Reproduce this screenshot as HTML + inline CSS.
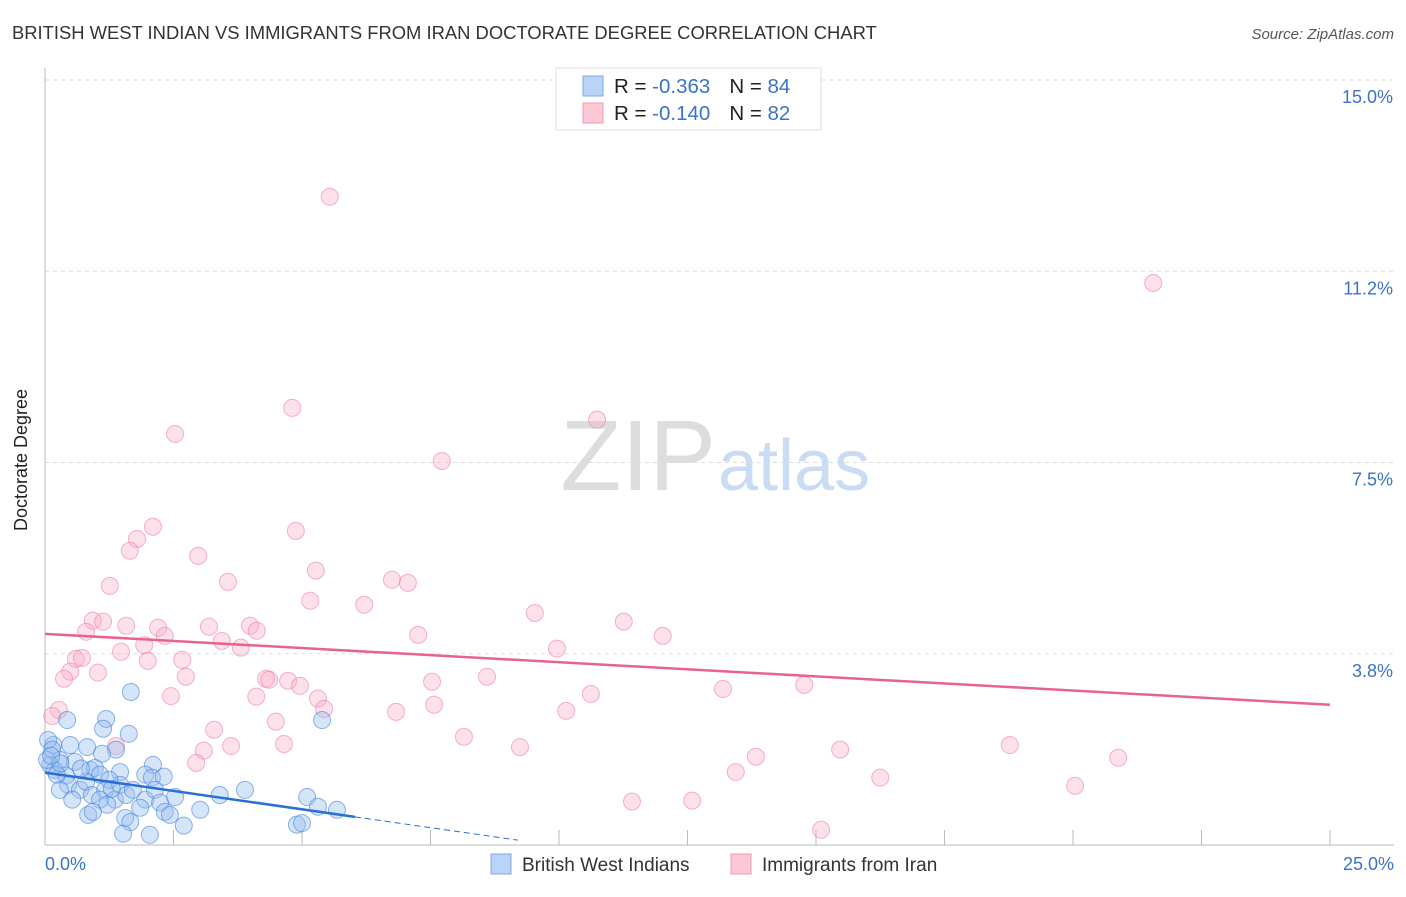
<!DOCTYPE html>
<html><head><meta charset="utf-8"><style>
body{margin:0;background:#fff;font-family:"Liberation Sans",sans-serif}
svg text{font-family:"Liberation Sans",sans-serif}
</style></head><body>
<svg width="1406" height="892">
<text x="12" y="39" font-size="18.4" fill="#333">BRITISH WEST INDIAN VS IMMIGRANTS FROM IRAN DOCTORATE DEGREE CORRELATION CHART</text>
<text x="1394" y="39" font-size="15" fill="#555" font-style="italic" text-anchor="end">Source: ZipAtlas.com</text>
<g id="grid"></g>
<text x="716" y="490" font-size="100" fill="#ddd" text-anchor="end" font-family="Liberation Serif">ZIP</text>
<text x="718" y="490" font-size="72" fill="#c9dcf3">atlas</text>
<g id="pts"></g>
<g id="trend"></g>
<text x="27" y="460" font-size="18" fill="#222" text-anchor="middle" transform="rotate(-90 27 460)">Doctorate Degree</text>
<g>
<rect x="556" y="68" width="265" height="62" fill="#fff" stroke="#ddd"/>
<rect x="583" y="76" width="20" height="20" fill="#b9d4f6" stroke="#7fa9e6"/>
<rect x="583" y="103" width="20" height="20" fill="#fcc8d6" stroke="#ee9ab3"/>
<text x="614" y="93" font-size="20.5" fill="#222">R = <tspan fill="#3b73c9">-0.363</tspan><tspan dx="19">N = </tspan><tspan fill="#3b73c9">84</tspan></text>
<text x="614" y="120" font-size="20.5" fill="#222">R = <tspan fill="#3b73c9">-0.140</tspan><tspan dx="19">N = </tspan><tspan fill="#3b73c9">82</tspan></text>
</g>
<g>
<rect x="491" y="854" width="20" height="20" fill="#b9d4f6" stroke="#7fa9e6"/>
<text x="522" y="871" font-size="19" fill="#333">British West Indians</text>
<rect x="731" y="854" width="20" height="20" fill="#fcc8d6" stroke="#ee9ab3"/>
<text x="762" y="871" font-size="19" fill="#333">Immigrants from Iran</text>
</g>
</svg>
<script>
const yTicks=[3.75,7.5,11.25,15];
const yTickLabels=["3.8%","7.5%","11.2%","15.0%"];
const xTicks=[0,2.5,5,7.5,10,12.5,15,17.5,20,22.5,25];
const blueX=[1.67,0.43,1.19,1.13,1.63,5.39,1.38,0.16,0.06,0.49,0.82,1.11,2.10,0.29,0.58,0.10,0.19,0.41,0.88,0.97,1.07,1.46,1.95,2.08,2.31,0.45,0.68,0.80,0.91,1.17,1.36,1.46,1.58,1.71,1.95,2.14,2.24,2.53,3.40,3.89,3.02,2.33,1.07,1.21,0.84,0.93,1.56,1.66,2.70,4.90,5.00,2.04,1.52,5.10,5.31,5.68,2.43,0.29,0.53,1.25,1.85,0.04,0.14,0.23,0.30,0.12,0.70,1.30];
const blueY=[3.00,2.45,2.47,2.28,2.18,2.45,1.87,1.96,2.06,1.96,1.92,1.79,1.57,1.67,1.63,1.57,1.47,1.36,1.47,1.51,1.38,1.43,1.38,1.32,1.34,1.18,1.08,1.24,0.98,1.08,0.89,1.18,0.98,1.08,0.89,1.08,0.83,0.94,0.98,1.08,0.69,0.65,0.89,0.79,0.59,0.65,0.53,0.45,0.38,0.40,0.43,0.20,0.22,0.94,0.75,0.69,0.59,1.08,0.89,1.28,0.73,1.67,1.87,1.38,1.60,1.75,1.50,1.10];
const pinkX=[5.54,21.56,4.81,10.74,2.53,7.72,2.10,4.88,1.79,1.65,2.98,5.27,1.26,3.56,6.75,7.06,5.16,6.21,9.53,0.93,1.13,1.58,0.80,2.20,3.19,3.99,4.12,2.33,7.26,11.26,12.02,3.44,1.93,3.81,9.96,1.48,0.60,0.72,2.00,2.67,0.49,1.03,0.37,2.74,4.30,4.36,4.73,7.53,8.60,4.96,14.77,13.19,2.45,4.11,10.62,5.31,7.57,5.43,6.83,10.14,0.27,0.14,4.49,3.29,8.15,1.38,3.62,4.65,9.24,3.09,18.77,15.47,13.83,20.88,2.94,13.44,16.25,20.04,11.42,12.59,15.10];
const pinkY=[12.71,11.02,8.57,8.34,8.06,7.53,6.24,6.16,6.00,5.77,5.67,5.38,5.08,5.16,5.20,5.14,4.79,4.71,4.55,4.40,4.38,4.30,4.18,4.26,4.28,4.30,4.20,4.10,4.12,4.38,4.10,4.00,3.92,3.87,3.85,3.79,3.65,3.67,3.61,3.63,3.40,3.38,3.26,3.30,3.26,3.24,3.22,3.20,3.30,3.12,3.14,3.06,2.92,2.91,2.96,2.87,2.75,2.67,2.61,2.63,2.65,2.53,2.42,2.26,2.12,1.94,1.94,1.98,1.92,1.85,1.96,1.87,1.73,1.71,1.61,1.43,1.32,1.16,0.85,0.87,0.30];
const blueTrend=[1.42,-0.144];
const pinkTrend=[4.14,-0.0556];
const X=v=>45+v/25*1285, Y=v=>845-v*51.0;
const ns="http://www.w3.org/2000/svg";
function mk(t,a,p){const e=document.createElementNS(ns,t);for(const k in a)e.setAttribute(k,a[k]);p.appendChild(e);return e;}
const g=document.getElementById('grid');
yTicks.forEach((t,i)=>{
const l=mk('line',{x1:45,x2:1394,y1:Y(t),y2:Y(t),stroke:'#ddd','stroke-dasharray':'4,4'},g);


const tx=mk('text',{x:1393,y:Y(t)+23,'font-size':18,fill:'#3b73c9','text-anchor':'end'},g);tx.textContent=yTickLabels[i];


});
const ax=mk('line',{x1:45,x2:45,y1:68,y2:845,stroke:'#bbb'},g);


const bx=mk('line',{x1:45,x2:1394,y1:845,y2:845,stroke:'#bbb'},g);


xTicks.forEach(t=>{const l=mk('line',{x1:X(t),x2:X(t),y1:830,y2:845,stroke:'#bbb'},g);

});
const x0=mk('text',{x:45,y:870,'font-size':18,fill:'#3b73c9'},g);x0.textContent='0.0%';


const x1=mk('text',{x:1394,y:870,'font-size':18,fill:'#3b73c9','text-anchor':'end'},g);x1.textContent='25.0%';


const P=document.getElementById('pts');
pinkX.forEach((v,i)=>{const c=mk('circle',{cx:X(v),cy:Y(pinkY[i]),r:8.5,fill:'rgba(248,170,195,0.35)',stroke:'rgba(236,130,165,0.6)','stroke-width':1},P);

});
blueX.forEach((v,i)=>{const c=mk('circle',{cx:X(v),cy:Y(blueY[i]),r:8.5,fill:'rgba(150,190,240,0.4)',stroke:'rgba(70,130,220,0.6)','stroke-width':1},P);

});
const T=document.getElementById('trend');
const bt=mk('line',{x1:X(0),y1:Y(blueTrend[0]),x2:X(6.03),y2:Y(blueTrend[0]+blueTrend[1]*6.03),stroke:'#2a6fd6','stroke-width':2.5},T);


const bd=mk('line',{x1:X(6.03),y1:Y(blueTrend[0]+blueTrend[1]*6.03),x2:X(9.2),y2:Y(blueTrend[0]+blueTrend[1]*9.2),stroke:'#2a6fd6','stroke-width':1,'stroke-dasharray':'6,4'},T);


const pt=mk('line',{x1:X(0),y1:Y(pinkTrend[0]),x2:X(25),y2:Y(pinkTrend[0]+pinkTrend[1]*25),stroke:'#e8628e','stroke-width':2.5},T);


</script>
</body></html>
